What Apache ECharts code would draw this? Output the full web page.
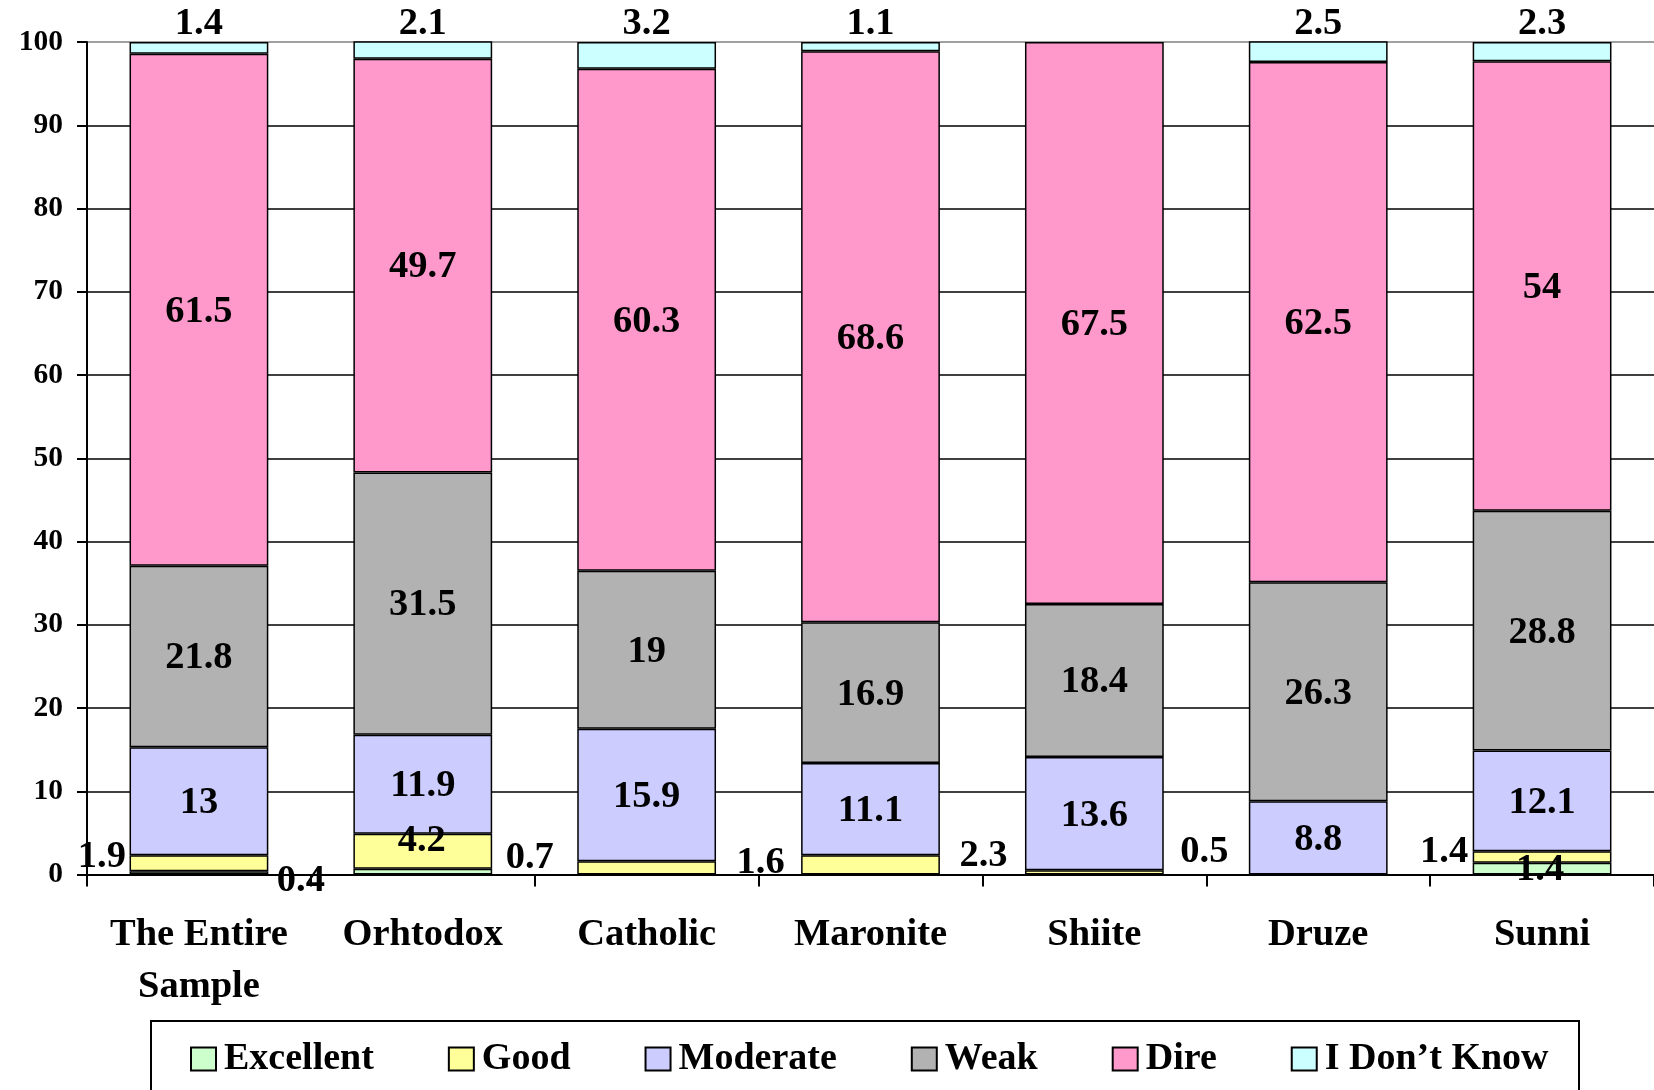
<!DOCTYPE html>
<html>
<head>
<meta charset="utf-8">
<script src="https://cdn.jsdelivr.net/npm/echarts@6/dist/echarts.min.js"></script>
<style>
html,body{margin:0;padding:0;background:#fff;}
#chart{width:1654px;height:1090px;}
</style>
</head>
<body>
<div id="chart"></div>
<script>
// ---- data ----
const categories = ['The Entire\nSample', 'Orhtodox', 'Catholic', 'Maronite', 'Shiite', 'Druze', 'Sunni'];
const excellent = [0.4, 0.7, null, null, null, null, 1.4];
const good      = [1.9, 4.2, 1.6, 2.3, 0.5, null, 1.4];
const moderate  = [13, 11.9, 15.9, 11.1, 13.6, 8.8, 12.1];
const weak      = [21.8, 31.5, 19, 16.9, 18.4, 26.3, 28.8];
const dire      = [61.5, 49.7, 60.3, 68.6, 67.5, 62.5, 54];
const dontKnow  = [1.4, 2.1, 3.2, 1.1, null, 2.5, 2.3];
const seriesNames = ['Excellent', 'Good', 'Moderate', 'Weak', 'Dire', 'I Don\u2019t Know'];
const yTicks = [0, 10, 20, 30, 40, 50, 60, 70, 80, 90, 100];

// ---- label placement (styling, px offsets from segment centre) ----
const excellentLabelOffsets = [[102, 8], [107, -14], null, null, null, null, [-2, 1]];
const goodLabelOffsets = [[-97, -6], [-1, -10], [114, -5], [113, -9], [110, -20], null, [-98, -5]];

const FONT = '"Liberation Serif", "Times New Roman", serif';
const colors = ['#CCFFCC', '#FFFF99', '#CCCCFF', '#B2B2B2', '#FF99CC', '#CCFFFF'];

function withOffsets(values, offsets) {
  return values.map((v, i) => {
    if (v === null) return null;
    const o = offsets[i];
    return o ? { value: v, label: { offset: o } } : v;
  });
}

const baseLabel = {
  show: true,
  color: '#000',
  fontFamily: FONT,
  fontWeight: 'bold',
  fontSize: 38.5,
  textBorderWidth: 0,
  formatter: p => (p.value === null || p.value === undefined) ? '' : String(p.value)
};

const seriesData = [
  withOffsets(excellent, excellentLabelOffsets),
  withOffsets(good, goodLabelOffsets),
  moderate, weak, dire, dontKnow
];

const series = seriesNames.map((name, i) => ({
  name: name,
  type: 'bar',
  stack: 'total',
  barWidth: '62%',
  data: seriesData[i],
  itemStyle: { color: colors[i], borderColor: '#000', borderWidth: 1.5 },
  label: Object.assign({}, baseLabel, i === 5 ? { position: 'top', distance: -2 } : { position: 'inside', offset: [0, 2] })
}));

const splitColors = yTicks.map(t => t === 100 ? '#808080' : '#000');

const chart = echarts.init(document.getElementById('chart'), null, { renderer: 'canvas' });
chart.setOption({
  backgroundColor: '#fff',
  animation: false,
  grid: { left: 87, right: -4, top: 42, bottom: 215.5, containLabel: false },
  xAxis: {
    type: 'category',
    data: categories,
    axisLine: { lineStyle: { color: '#000', width: 2 } },
    axisTick: { show: true, length: 12, lineStyle: { color: '#000', width: 2 } },
    axisLabel: {
      color: '#000', fontFamily: FONT, fontWeight: 'bold', fontSize: 38.5,
      lineHeight: 52, margin: 35, interval: 0
    }
  },
  yAxis: {
    type: 'value',
    min: yTicks[0],
    max: yTicks[yTicks.length - 1],
    interval: 10,
    axisLine: { show: true, lineStyle: { color: '#000', width: 2 } },
    axisTick: { show: true, length: 10, lineStyle: { color: '#000', width: 2 } },
    axisLabel: { color: '#000', fontFamily: FONT, fontWeight: 'bold', fontSize: 29.5, margin: 24 },
    splitLine: { show: true, lineStyle: { color: splitColors, width: 1.5 } }
  },
  legend: {
    data: seriesNames,
    left: 190,
    top: 1039,
    icon: 'rect',
    itemWidth: 25,
    itemHeight: 23,
    itemGap: 74,
    padding: 0,
    textStyle: { color: '#000', fontFamily: FONT, fontWeight: 'bold', fontSize: 38, lineHeight: 40, padding: [0, 0, 0, 3] }
  },
  graphic: [{
    type: 'rect',
    shape: { x: 151, y: 1021, width: 1428, height: 120 },
    style: { fill: 'none', stroke: '#000', lineWidth: 2 },
    silent: true
  }],
  series: series
});
</script>
</body>
</html>
